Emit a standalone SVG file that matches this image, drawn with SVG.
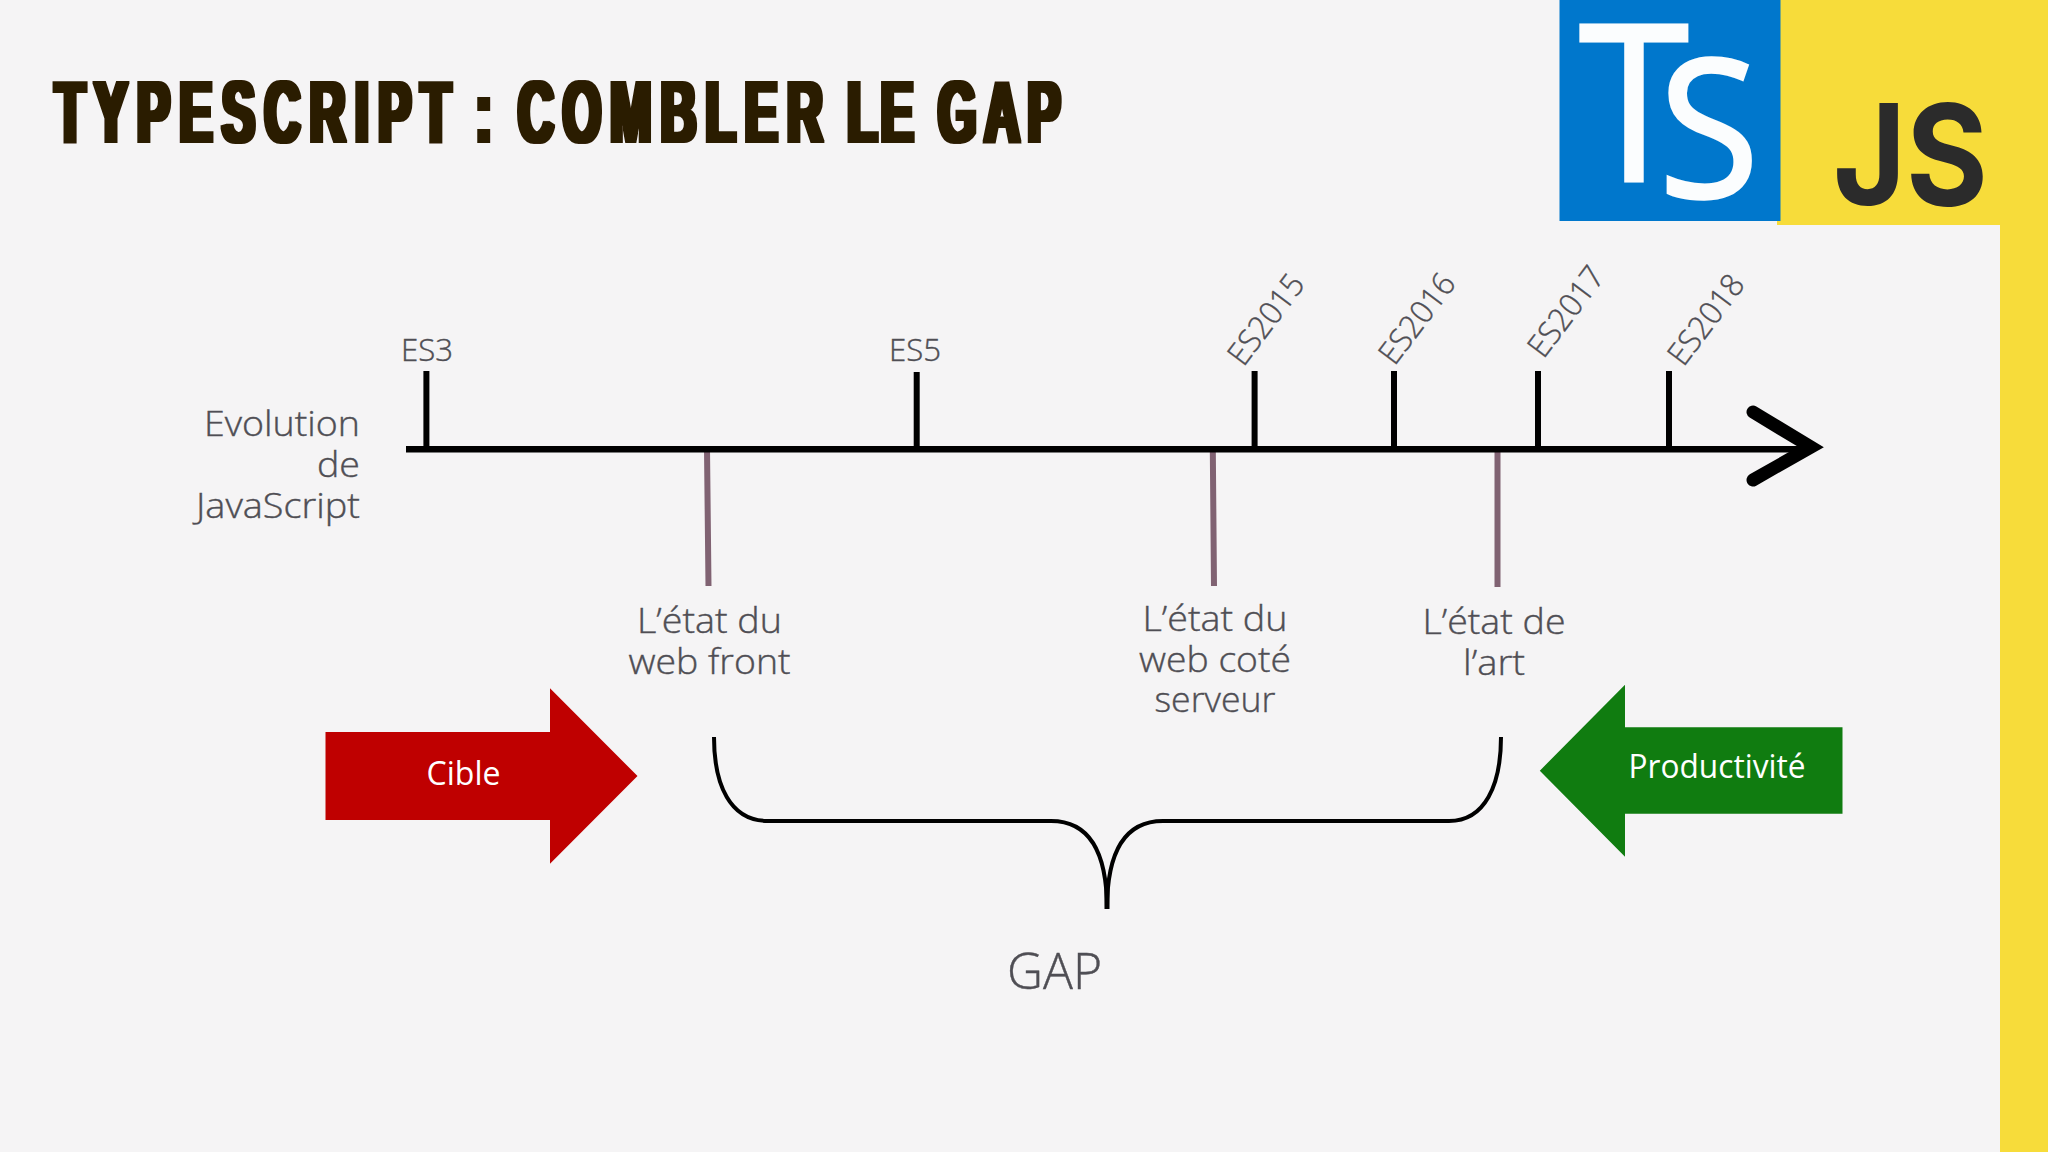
<svg xmlns="http://www.w3.org/2000/svg" width="2048" height="1152" viewBox="0 0 2048 1152">
<style>
.t{font-family:"Open Sans","Noto Sans","DejaVu Sans",sans-serif;font-weight:300;fill:#4f4e54;stroke:#4f4e54;stroke-width:.4}
.s34{font-size:35px}.s32{font-size:32px}
.m{text-anchor:middle}.e{text-anchor:end}
.l{font-weight:400;fill:#fff;stroke:none}
.tick{stroke:#000;stroke-width:6;fill:none}
.state{stroke:#806272;stroke-width:6;fill:none}
</style>
<defs>
<filter id="fat" filterUnits="userSpaceOnUse" x="30" y="60" width="1060" height="110"><feMorphology operator="dilate" radius="3.2 1"/></filter>
</defs>
<rect width="2048" height="1152" fill="#f5f4f5"/>
<g id="band">
<rect x="1777" y="0" width="271" height="225" fill="#f7dc3a"/>
<rect x="2000" y="0" width="48" height="1152" fill="#f7dc3a"/>
</g>
<g id="title" filter="url(#fat)"><text transform="translate(0 142) scale(.56 1)" font-family="Liberation Sans, Arial, sans-serif" font-weight="700" font-size="88" fill="#2a1a00"><tspan x="98" letter-spacing="17.200">TYPESCRIPT </tspan><tspan x="849">: </tspan><tspan x="925" letter-spacing="16.500">COMBLER </tspan><tspan x="1513" letter-spacing="6">LE </tspan><tspan x="1675" letter-spacing="14">GAP</tspan></text></g>
<g id="ts-logo">
<rect x="1559.500" y="0" width="221" height="221" fill="#0077cc"/>
<text x="1579" y="181" textLength="110" lengthAdjust="spacingAndGlyphs" font-family="Open Sans, sans-serif" font-size="219" fill="#fbfdfe" stroke="#fbfdfe" stroke-width="3">T</text>
<text x="1659" y="197" textLength="100" lengthAdjust="spacingAndGlyphs" font-family="Open Sans, sans-serif" font-size="193" fill="#fbfdfe" stroke="#fbfdfe" stroke-width="3.500">S</text>
</g>
<g id="js-logo">
<text x="1833" y="205" textLength="155" lengthAdjust="spacingAndGlyphs" font-family="Inter, Open Sans, sans-serif" font-weight="700" font-size="140" fill="#2b2b2b">JS</text>
</g>
<g id="connectors">
<path class="state" d="M707 449L708.500 586M1212.800 449L1214 586M1497.500 449V587"/>
<path class="tick" d="M426.400 371V449M916.700 372V449M1254.600 371V449M1394 371V449M1538 371V449M1669 371V449"/>
<path d="M406 449.300H1811" stroke="#000" stroke-width="6.500" fill="none"/>
<path d="M1753 412L1811 447L1753 480" stroke="#000" stroke-width="13" stroke-linecap="round" fill="none"/>
<path d="M714 737C714 785 730 821 768 821H1051C1085 821 1107 845 1107 909C1107 845 1129 821 1163 821H1449C1485 821 1501 785 1501 737" stroke="#000" stroke-width="4" fill="none"/>
<path d="M1104.500 885H1109.500V909H1104.500Z" fill="#000"/>
</g>
<g id="evolution"><text class="t s34 e" x="360" y="436" textLength="156" lengthAdjust="spacingAndGlyphs">Evolution</text><text class="t s34 e" x="360" y="477" textLength="43" lengthAdjust="spacingAndGlyphs">de</text><text class="t s34 e" x="360" y="518" textLength="164" lengthAdjust="spacingAndGlyphs">JavaScript</text></g>
<g id="es3"><text class="t s32 m" x="427" y="360.700" textLength="52" lengthAdjust="spacingAndGlyphs">ES3</text></g>
<g id="es5"><text class="t s32 m" x="915" y="360.700" textLength="52" lengthAdjust="spacingAndGlyphs">ES5</text></g>
<g id="es2015"><text class="t s32 m" transform="translate(1266 319.500) rotate(-53)" y="11" textLength="104" lengthAdjust="spacingAndGlyphs">ES2015</text></g>
<g id="es2016"><text class="t s32 m" transform="translate(1417 318.700) rotate(-53)" y="11" textLength="104" lengthAdjust="spacingAndGlyphs">ES2016</text></g>
<g id="es2017"><text class="t s32 m" transform="translate(1566 311.700) rotate(-53)" y="11" textLength="104" lengthAdjust="spacingAndGlyphs">ES2017</text></g>
<g id="es2018"><text class="t s32 m" transform="translate(1706 319.700) rotate(-53)" y="11" textLength="104" lengthAdjust="spacingAndGlyphs">ES2018</text></g>
<g id="front"><text class="t s34 m" x="709.500" y="633" textLength="145" lengthAdjust="spacingAndGlyphs">L’état du</text><text class="t s34 m" x="709.500" y="674" textLength="162" lengthAdjust="spacingAndGlyphs">web front</text></g>
<g id="serveur"><text class="t s34 m" x="1215" y="631" textLength="145" lengthAdjust="spacingAndGlyphs">L’état du</text><text class="t s34 m" x="1215" y="671.700" textLength="152" lengthAdjust="spacingAndGlyphs">web coté</text><text class="t s34 m" x="1215" y="711.700" textLength="121" lengthAdjust="spacingAndGlyphs">serveur</text></g>
<g id="art"><text class="t s34 m" x="1494" y="634" textLength="143" lengthAdjust="spacingAndGlyphs">L’état de</text><text class="t s34 m" x="1494" y="675" textLength="62" lengthAdjust="spacingAndGlyphs">l’art</text></g>
<g id="cible">
<path d="M325.500 732H550V688.300L637.500 776L550 863.700V820H325.500Z" fill="#bf0000"/>
<text class="s32 m l" font-family="Open Sans, sans-serif" x="463.500" y="785" textLength="74" lengthAdjust="spacingAndGlyphs">Cible</text>
</g>
<g id="productivite">
<path d="M1842.500 727.300H1625V684.700L1539.800 770.700L1625 856.700V813.700H1842.500Z" fill="#107c10"/>
<text class="s32 m l" font-family="Open Sans, sans-serif" x="1717" y="778" textLength="177" lengthAdjust="spacingAndGlyphs">Productivité</text>
</g>
<g id="gap"><text class="t m" font-size="49" x="1054.500" y="989" textLength="95" lengthAdjust="spacingAndGlyphs">GAP</text></g>
</svg>
